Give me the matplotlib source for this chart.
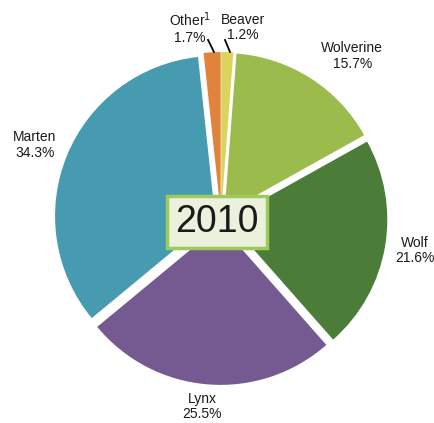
import matplotlib
matplotlib.use("Agg")
import matplotlib.pyplot as plt
import numpy as np

categories = ["Beaver", "Wolverine", "Wolf", "Lynx", "Marten", "Other$^1$"]
values = [1.2, 15.7, 21.6, 25.5, 34.3, 1.7]
colors = ["#dcd35c", "#9bbb4c", "#4b7d39", "#745a90", "#479bb0", "#e0843c"]
label_pos = {
    "Beaver": (0.1375, 1.194),
    "Wolverine": (0.82, 1.015),
    "Wolf": (1.2125, -0.20),
    "Lynx": (-0.119, -1.175),
    "Marten": (-1.1625, 0.459),
    "Other$^1$": (-0.194, 1.194),
}
year = "2010"

fig = plt.figure(figsize=(4.35, 4.23), dpi=100)
ax = fig.add_axes([0, 0, 1, 1])
ax.pie(values, colors=colors, startangle=90, counterclock=False,
       explode=[0.04] * len(values), radius=1.0,
       wedgeprops=dict(linewidth=0))
ax.set_xlim(-221 / 160, (435 - 221) / 160)
ax.set_ylim(-(423 - 218.5) / 160, 218.5 / 160)
ax.set_aspect("auto")
ax.axis("off")

for cat, v in zip(categories, values):
    x, y = label_pos[cat]
    ax.text(x, y, f"{cat}\n{v:.1f}%", ha="center", va="center",
            fontsize=10, color="#1a1a1a", linespacing=1.15,
            family="Liberation Sans")

# leader lines for small slices
ax.plot([-0.081, -0.044], [1.116, 1.041], color="black", lw=1.3)
ax.plot([0.025, 0.056], [1.116, 1.041], color="black", lw=1.3)

ax.text(-0.025, -0.022, year, ha="center", va="center", fontsize=27,
        color="#1a1a1a", family="Liberation Sans",
        bbox=dict(boxstyle="square,pad=0.22", facecolor="#ebf1dd",
                  edgecolor="#9dca5b", linewidth=2.5))

fig.savefig("out.png", dpi=100)
